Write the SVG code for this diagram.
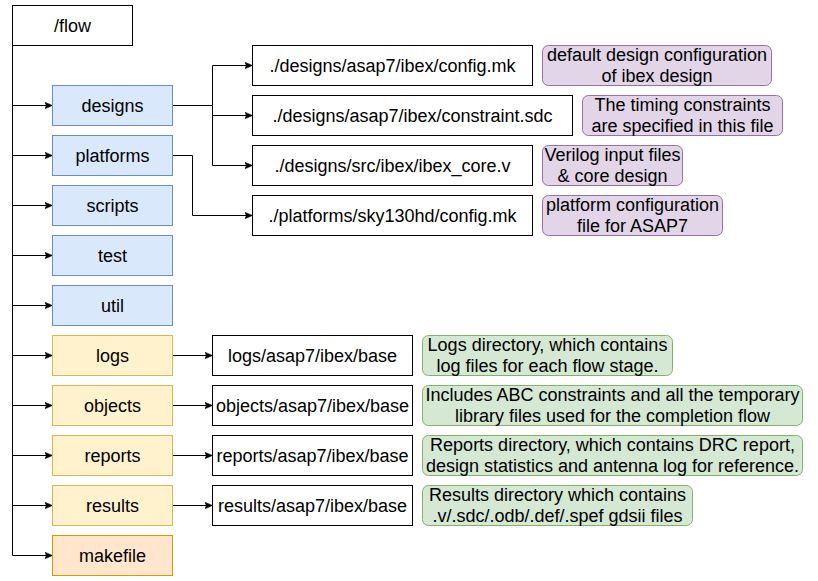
<svg xmlns="http://www.w3.org/2000/svg" width="818" height="581" viewBox="0 0 818 581">
<style>
text{font-family:"Liberation Sans",Arial,sans-serif;font-size:18px;fill:#000;text-anchor:middle}
.w{fill:#fff;stroke:#000;stroke-width:1}
.b{fill:#dae8fc;stroke:#6c8ebf;stroke-width:1}
.y{fill:#fff2cc;stroke:#d6b656;stroke-width:1}
.o{fill:#ffe6cc;stroke:#d79b00;stroke-width:1}
.p{fill:#e1d5e7;stroke:#9673a6;stroke-width:1}
.g{fill:#d5e8d4;stroke:#82b366;stroke-width:1}
.c{fill:none;stroke:#000;stroke-width:1}
</style>
<defs>
<marker id="ah" markerWidth="10" markerHeight="10" refX="8" refY="4" orient="auto" markerUnits="userSpaceOnUse">
<path d="M0,0.5 L8,4 L0,7.5 L2,4 z" fill="#000" stroke="#000" stroke-width="0.5"/>
</marker>
</defs>
<rect width="818" height="581" fill="#fff"/>
<g id="connectors">
<path class="c" d="M12.5,45.5 V555.5"/>
<path class="c" marker-end="url(#ah)" d="M12.5,105.5 H52.5"/>
<path class="c" marker-end="url(#ah)" d="M12.5,155.5 H52.5"/>
<path class="c" marker-end="url(#ah)" d="M12.5,205.5 H52.5"/>
<path class="c" marker-end="url(#ah)" d="M12.5,255.5 H52.5"/>
<path class="c" marker-end="url(#ah)" d="M12.5,305.5 H52.5"/>
<path class="c" marker-end="url(#ah)" d="M12.5,355.5 H52.5"/>
<path class="c" marker-end="url(#ah)" d="M12.5,405.5 H52.5"/>
<path class="c" marker-end="url(#ah)" d="M12.5,455.5 H52.5"/>
<path class="c" marker-end="url(#ah)" d="M12.5,505.5 H52.5"/>
<path class="c" marker-end="url(#ah)" d="M12.5,555.5 H52.5"/>
<path class="c" d="M172.5,105.5 H212.5"/>
<path class="c" marker-end="url(#ah)" d="M212.5,105.5 V65.5 H252.5"/>
<path class="c" marker-end="url(#ah)" d="M212.5,115.5 H252.5"/>
<path class="c" marker-end="url(#ah)" d="M212.5,105.5 V165.5 H252.5"/>
<path class="c" marker-end="url(#ah)" d="M172.5,155.5 H192.5 V215.5 H252.5"/>
<path class="c" marker-end="url(#ah)" d="M172.5,355.5 H212.5"/>
<path class="c" marker-end="url(#ah)" d="M172.5,405.5 H212.5"/>
<path class="c" marker-end="url(#ah)" d="M172.5,455.5 H212.5"/>
<path class="c" marker-end="url(#ah)" d="M172.5,505.5 H212.5"/>
</g>
<g id="flow"><rect class="w" x="12.5" y="5.5" width="120" height="40"/><text x="72.5" y="31.5">/flow</text></g>
<g id="designs"><rect class="b" x="52.5" y="85.5" width="120" height="40"/><text x="112.5" y="111.5">designs</text></g>
<g id="platforms"><rect class="b" x="52.5" y="135.5" width="120" height="40"/><text x="112.5" y="161.5">platforms</text></g>
<g id="scripts"><rect class="b" x="52.5" y="185.5" width="120" height="40"/><text x="112.5" y="211.5">scripts</text></g>
<g id="test"><rect class="b" x="52.5" y="235.5" width="120" height="40"/><text x="112.5" y="261.5">test</text></g>
<g id="util"><rect class="b" x="52.5" y="285.5" width="120" height="40"/><text x="112.5" y="311.5">util</text></g>
<g id="logs"><rect class="y" x="52.5" y="335.5" width="120" height="40"/><text x="112.5" y="361.5">logs</text></g>
<g id="objects"><rect class="y" x="52.5" y="385.5" width="120" height="40"/><text x="112.5" y="411.5">objects</text></g>
<g id="reports"><rect class="y" x="52.5" y="435.5" width="120" height="40"/><text x="112.5" y="461.5">reports</text></g>
<g id="results"><rect class="y" x="52.5" y="485.5" width="120" height="40"/><text x="112.5" y="511.5">results</text></g>
<g id="makefile"><rect class="o" x="52.5" y="535.5" width="120" height="40"/><text x="112.5" y="561.5">makefile</text></g>
<g id="configmk"><rect class="w" x="252.5" y="45.5" width="280" height="40"/><text x="392.5" y="71.5">./designs/asap7/ibex/config.mk</text></g>
<g id="constraint"><rect class="w" x="252.5" y="95.5" width="320" height="40"/><text x="412.5" y="121.5">./designs/asap7/ibex/constraint.sdc</text></g>
<g id="ibexcore"><rect class="w" x="252.5" y="145.5" width="280" height="40"/><text x="392.5" y="171.5">./designs/src/ibex/ibex_core.v</text></g>
<g id="platformmk"><rect class="w" x="252.5" y="195.5" width="280" height="40"/><text x="392.5" y="221.5">./platforms/sky130hd/config.mk</text></g>
<g id="note1"><rect class="p" x="542.5" y="45.5" width="229" height="40" rx="6"/><text x="657" y="61">default design configuration</text><text x="657" y="82">of ibex design</text></g>
<g id="note2"><rect class="p" x="582.5" y="95.5" width="200" height="40" rx="6"/><text x="682.5" y="111">The timing constraints</text><text x="682.5" y="132">are specified in this file</text></g>
<g id="note3"><rect class="p" x="542.5" y="145.5" width="140" height="40" rx="6"/><text x="612.5" y="161">Verilog input files</text><text x="612.5" y="182">&amp; core design</text></g>
<g id="note4"><rect class="p" x="542.5" y="195.5" width="180" height="40" rx="6"/><text x="632.5" y="211">platform configuration</text><text x="632.5" y="232">file for ASAP7</text></g>
<g id="logsbase"><rect class="w" x="212.5" y="335.5" width="200" height="40"/><text x="312.5" y="361.5">logs/asap7/ibex/base</text></g>
<g id="objectsbase"><rect class="w" x="212.5" y="385.5" width="200" height="40"/><text x="312.5" y="411.5">objects/asap7/ibex/base</text></g>
<g id="reportsbase"><rect class="w" x="212.5" y="435.5" width="200" height="40"/><text x="312.5" y="461.5">reports/asap7/ibex/base</text></g>
<g id="resultsbase"><rect class="w" x="212.5" y="485.5" width="200" height="40"/><text x="312.5" y="511.5">results/asap7/ibex/base</text></g>
<g id="note5"><rect class="g" x="422.5" y="335.5" width="250" height="40" rx="6"/><text x="547.5" y="351">Logs directory, which contains</text><text x="547.5" y="372">log files for each flow stage.</text></g>
<g id="note6"><rect class="g" x="422.5" y="385.5" width="380" height="40" rx="6"/><text x="612.5" y="401">Includes ABC constraints and all the temporary</text><text x="612.5" y="422">library files used for the completion flow</text></g>
<g id="note7"><rect class="g" x="422.5" y="435.5" width="380" height="40" rx="6"/><text x="612.5" y="451">Reports directory, which contains DRC report,</text><text x="612.5" y="472">design statistics and antenna log for reference.</text></g>
<g id="note8"><rect class="g" x="422.5" y="485.5" width="270" height="40" rx="6"/><text x="557.5" y="501">Results directory which contains</text><text x="557.5" y="522">.v/.sdc/.odb/.def/.spef gdsii files</text></g>
</svg>
